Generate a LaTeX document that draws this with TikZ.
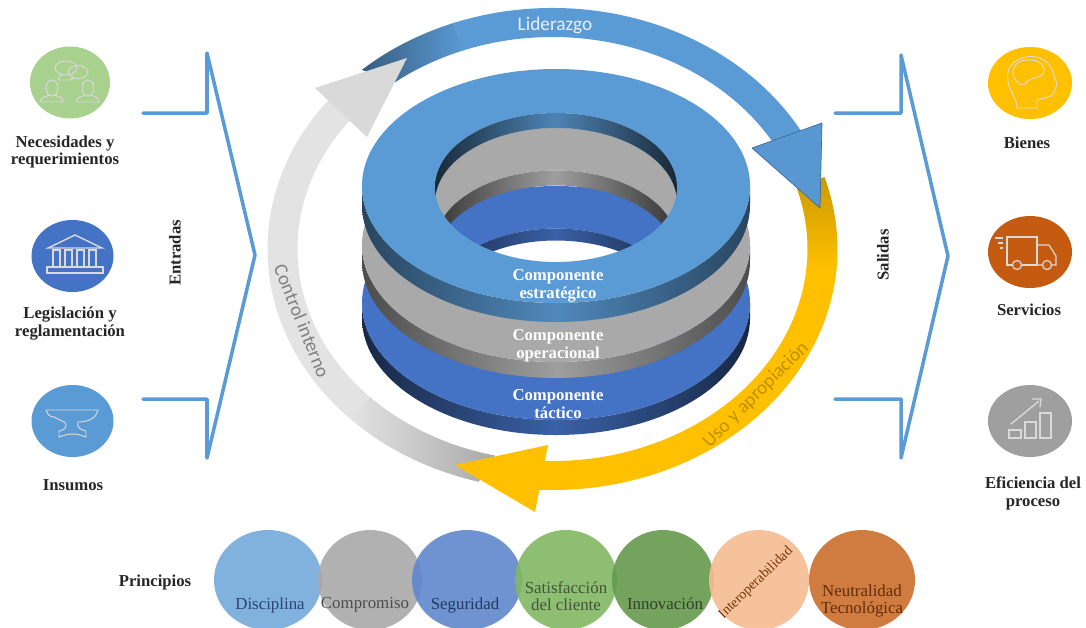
\documentclass[tikz,border=0pt]{standalone}
\usepackage{fontspec}
\setmainfont{Liberation Serif}
\newfontfamily\arcfont{Carlito}
\definecolor{skyblue}{HTML}{5B9BD5}
\definecolor{royal}{HTML}{4472C4}
\definecolor{midgrey}{HTML}{A9A9A9}
\definecolor{paleg}{HTML}{E3E3E3}
\definecolor{amber}{HTML}{FFC000}
\definecolor{leaf}{HTML}{A9D18E}
\definecolor{rust}{HTML}{C55A11}
\definecolor{grass}{HTML}{82B863}
\definecolor{moss}{HTML}{659A4C}
\definecolor{peach}{HTML}{F6BC92}
\definecolor{clay}{HTML}{CB6D2C}

\begin{document}
\begin{tikzpicture}[
    x=0.02cm, y=0.02cm,
    lbl/.style={font=\fontsize{9.5}{10.2}\selectfont\bfseries, align=center, text=black!85},
    ringlbl/.style={font=\fontsize{9.5}{10.2}\selectfont\bfseries, align=center, text=white},
    pill/.style={font=\fontsize{9.6}{10}\selectfont, align=center, inner sep=0pt},
    arclbl/.style={font=\arcfont\fontsize{11}{12}\selectfont, inner sep=0pt},
    ico/.style={draw=white!85!black, line width=0.55pt, fill=none},
    chevron/.style={draw=skyblue, line width=2pt, line join=round, line cap=round},
    orb/.style={fill opacity=0.9},
]
\useasboundingbox (0,0) rectangle (1086,-627);
\fill[white] (0,0) rectangle (1086,-627);

% Chevrons
\draw[chevron] (143,-113) -- (207,-113) -- (207,-53) -- (255,-255) -- (207,-458) -- (207,-399) -- (143,-399);
\draw[chevron] (835,-113) -- (901,-113) -- (901,-55) -- (948,-256) -- (901,-458) -- (901,-399) -- (835,-399);
\node[lbl, rotate=90] (entradas) at (175,-253) {Entradas};
\node[lbl, rotate=90] (salidas) at (883,-255) {Salidas};

% Left icons
\fill[leaf] (70,-82.5) ellipse [x radius=40, y radius=36];
\draw[ico] (52,-88) ellipse [x radius=6, y radius=8];
\draw[ico] (40,-102) .. controls (41,-97) and (46,-97) .. (49,-95) (55,-95) .. controls (59,-97) and (63,-97) .. (63,-102) -- (40,-102);
\draw[ico] (88,-88) ellipse [x radius=6, y radius=8];
\draw[ico] (76,-102) .. controls (77,-97) and (82,-97) .. (85,-95) (91,-95) .. controls (95,-97) and (99,-97) .. (99,-102) -- (76,-102);
\draw[ico] (66,-68) ellipse [x radius=11, y radius=7];
\draw[ico] (78,-72) ellipse [x radius=10, y radius=6.5];
\draw[ico] (58,-80) -- (61,-74) (70,-80) -- (74,-78) (58,-80) -- (70,-80);
\node[lbl] (necesidades) at (65,-152) {Necesidades y\\requerimientos};

\fill[royal] (72.5,-256) ellipse [x radius=41, y radius=36];
\draw[ico, line width=0.8pt] (48,-248) -- (75,-235) -- (102,-248) -- cycle;
\draw[ico, line width=0.8pt] (53,-250) rectangle (60,-267) (65,-250) rectangle (72,-267) (77,-250) rectangle (84,-267) (89,-250) rectangle (96,-267);
\draw[ico, line width=0.8pt] (47,-267) rectangle (103,-273);
\node[lbl] (legislacion) at (70,-323.5) {Legislación y\\reglamentación};

\fill[skyblue] (72.5,-421) ellipse [x radius=41, y radius=36];
\draw[ico] (46,-410) -- (98,-410) .. controls (96,-420) and (85,-422) .. (78,-422) .. controls (76,-428) and (82,-430) .. (86,-431) -- (86,-437)
    .. controls (76,-433) and (70,-433) .. (59,-437) -- (59,-431) .. controls (64,-430) and (68,-428) .. (65,-422) .. controls (60,-421) and (57,-418) .. (54,-417) .. controls (50,-417) and (47,-414) .. (46,-410);
\node[lbl] (insumos) at (73,-485) {Insumos};

% Right icons
\fill[amber] (1030,-83) ellipse [x radius=42, y radius=36];
\draw[ico] (1017,-108) .. controls (1018,-98) and (1005,-88) .. (1008,-72) .. controls (1011,-55) and (1045,-48) .. (1053,-72)
    .. controls (1054,-78) and (1059,-84) .. (1056,-87) -- (1054,-92) .. controls (1052,-99) and (1040,-98) .. (1037,-100) -- (1037,-108) -- cycle;
\draw[ico] (1017,-82) .. controls (1008,-72) and (1015,-58) .. (1030,-60) .. controls (1044,-60) and (1048,-72) .. (1040,-76) .. controls (1032,-80) and (1028,-78) .. (1025,-84) .. controls (1023,-85) and (1020,-85) .. (1017,-82);
\node[lbl] (bienes) at (1027,-143) {Bienes};

\fill[rust] (1030,-252) ellipse [x radius=42, y radius=36];
\draw[ico, line width=0.7pt] (1007,-237) rectangle (1037,-265);
\draw[ico, line width=0.7pt] (1037,-245) -- (1049,-245) -- (1056,-256) -- (1056,-265) -- (1037,-265);
\draw[ico, fill=rust, line width=0.7pt] (1017,-265) circle [radius=4.5] (1047,-265) circle [radius=4.5];
\draw[ico, line width=0.7pt] (995,-238) -- (1003,-238) (998,-243) -- (1003,-243) (1000,-248) -- (1003,-248);
\node[lbl] (servicios) at (1029,-310) {Servicios};

\fill[gray!75] (1030,-421) ellipse [x radius=42, y radius=36];
\draw[ico, line width=0.8pt] (1009,-430) rectangle (1021,-438) (1025,-422) rectangle (1036,-438) (1040,-413) rectangle (1051,-438);
\draw[ico, line width=0.8pt] (1011,-424) -- (1039,-401);
\draw[ico, line width=0.8pt] (1032,-399) -- (1041,-399) -- (1040,-407);
\node[lbl] (eficiencia) at (1033,-493.5) {Eficiencia del\\proceso};

% Cycle bands
\begin{scope}[shift={(552.5,-249)}]
\shade[left color=skyblue!60!black, right color=skyblue] (132:285 and 241) arc [start angle=132, end angle=110, x radius=285, y radius=241]
    -- (110:255 and 212) arc [start angle=110, end angle=128, x radius=255, y radius=212] -- cycle;
\fill[skyblue] (110.5:285 and 241) arc [start angle=110.5, end angle=27, x radius=285, y radius=241]
    -- (29:255 and 212) arc [start angle=29, end angle=110.5, x radius=255, y radius=212] -- cycle;
\fill[paleg] (138:285 and 241) arc [start angle=138, end angle=225, x radius=285, y radius=241]
    -- (225:255 and 212) arc [start angle=225, end angle=138, x radius=255, y radius=212] -- cycle;
\shade[left color=paleg, right color=midgrey] (224.5:285 and 241) arc [start angle=224.5, end angle=255, x radius=285, y radius=241]
    -- (257:255 and 212) arc [start angle=257, end angle=224.5, x radius=255, y radius=212] -- cycle;
\shade[top color=amber!80!black, bottom color=amber] (17.4:285 and 241) arc [start angle=17.4, end angle=-5, x radius=285, y radius=241]
    -- (-5:255 and 212) arc [start angle=-5, end angle=16.4, x radius=255, y radius=212] -- cycle;
\fill[amber] (-4.5:285 and 241) arc [start angle=-4.5, end angle=-95, x radius=285, y radius=241]
    -- (-95:255 and 212) arc [start angle=-95, end angle=-4.5, x radius=255, y radius=212] -- cycle;
\end{scope}
\node[arclbl, text=white!85!skyblue] (liderazgo) at (555,-25) {Liderazgo};
\node[arclbl, text=black!50, rotate=-68] (control) at (302,-321) {Control interno};
\node[arclbl, text=amber!75!black, rotate=45] (uso) at (756,-395) {Uso y apropiación};

% Arrow heads
\fill[gray!30] (407,-58) -- (315,-88) -- (367,-137) -- cycle;
\draw[fill=skyblue!90!royal, draw=skyblue!70!black, line width=0.4pt, line join=round] (822,-123) -- (752,-148) -- (820,-208) -- cycle;
\fill[amber] (548,-445) -- (455,-465) -- (535,-512) -- cycle;

% Bottom disk
\shade[left color=royal!35!black, right color=royal!35!black, middle color=royal!85!black]
    (362,-303) arc [start angle=180, end angle=360, x radius=194, y radius=117]
    -- (750,-318) arc [start angle=360, end angle=180, x radius=194, y radius=117] -- cycle;
\fill[royal, even odd rule] (556,-303) ellipse [x radius=194, y radius=117] (556,-303) ellipse [x radius=121, y radius=74.5];
\begin{scope}
    \clip (556,-303) ellipse [x radius=121, y radius=74.5];
    \shade[even odd rule, left color=royal!35!black, right color=royal!35!black, middle color=royal!85!black]
        (430,-220) rectangle (680,-380) (556,-315) ellipse [x radius=121, y radius=74.5];
\end{scope}

% Middle disk
\shade[left color=black!70, right color=black!70, middle color=black!38]
    (362,-245) arc [start angle=180, end angle=360, x radius=194, y radius=117]
    -- (750,-261) arc [start angle=360, end angle=180, x radius=194, y radius=117] -- cycle;
\fill[midgrey, even odd rule] (556,-245) ellipse [x radius=194, y radius=117] (556,-245) ellipse [x radius=121, y radius=74.5];
\begin{scope}
    \clip (556,-245) ellipse [x radius=121, y radius=74.5];
    \shade[even odd rule, left color=black!80, right color=black!80, middle color=black!38]
        (430,-160) rectangle (680,-330) (556,-260) ellipse [x radius=121, y radius=74.5];
\end{scope}

% Top disk
\shade[left color=skyblue!45!black, right color=skyblue!45!black, middle color=skyblue!88!black]
    (362,-186) arc [start angle=180, end angle=360, x radius=194, y radius=117]
    -- (750,-205) arc [start angle=360, end angle=180, x radius=194, y radius=117] -- cycle;
\fill[skyblue, even odd rule] (556,-186) ellipse [x radius=194, y radius=117] (556,-187.5) ellipse [x radius=121, y radius=74.5];
\begin{scope}
    \clip (556,-187.5) ellipse [x radius=121, y radius=74.5];
    \shade[even odd rule, left color=skyblue!25!black, right color=skyblue!25!black, middle color=skyblue!85!black]
        (430,-100) rectangle (680,-270) (556,-202.5) ellipse [x radius=121, y radius=74.5];
\end{scope}

\node[ringlbl] (estrategico) at (558,-286) {Componente\\estratégico};
\node[ringlbl] (operacional) at (558,-346) {Componente\\operacional};
\node[ringlbl] (tactico) at (558,-404) {Componente\\táctico};

% Principles row
\node[lbl] (principios) at (155,-582) {Principios};
\fill[skyblue!85!white, orb] (268,-580) ellipse [x radius=54, y radius=50];
\fill[midgrey, orb] (370,-580) ellipse [x radius=52, y radius=50];
\fill[royal!85!white, orb] (467,-580) ellipse [x radius=55, y radius=50];
\fill[grass, orb] (566,-580) ellipse [x radius=51, y radius=50];
\fill[moss, orb] (663,-580) ellipse [x radius=51, y radius=50];
\fill[peach, orb] (759,-580) ellipse [x radius=50, y radius=50];
\fill[clay, orb] (862,-580) ellipse [x radius=53, y radius=50];
\node[pill, text=royal!60!black] (disciplina) at (270,-605) {Disciplina};
\node[pill, text=black!70] (compromiso) at (365,-605) {Compromiso};
\node[pill, text=royal!50!black] (seguridad) at (465,-605) {Seguridad};
\node[pill, text=leaf!40!black] (satisfaccion) at (566,-596) {Satisfacción\\del cliente};
\node[pill, text=leaf!30!black] (innovacion) at (665,-604) {Innovación};
\node[pill, text=rust!60!black, rotate=44, font=\fontsize{8}{9}\selectfont] (interop) at (756,-583) {Interoperabilidad};
\node[pill, text=rust!50!black] (neutralidad) at (862,-601) {Neutralidad\\Tecnológica};

\end{tikzpicture}
\end{document}
